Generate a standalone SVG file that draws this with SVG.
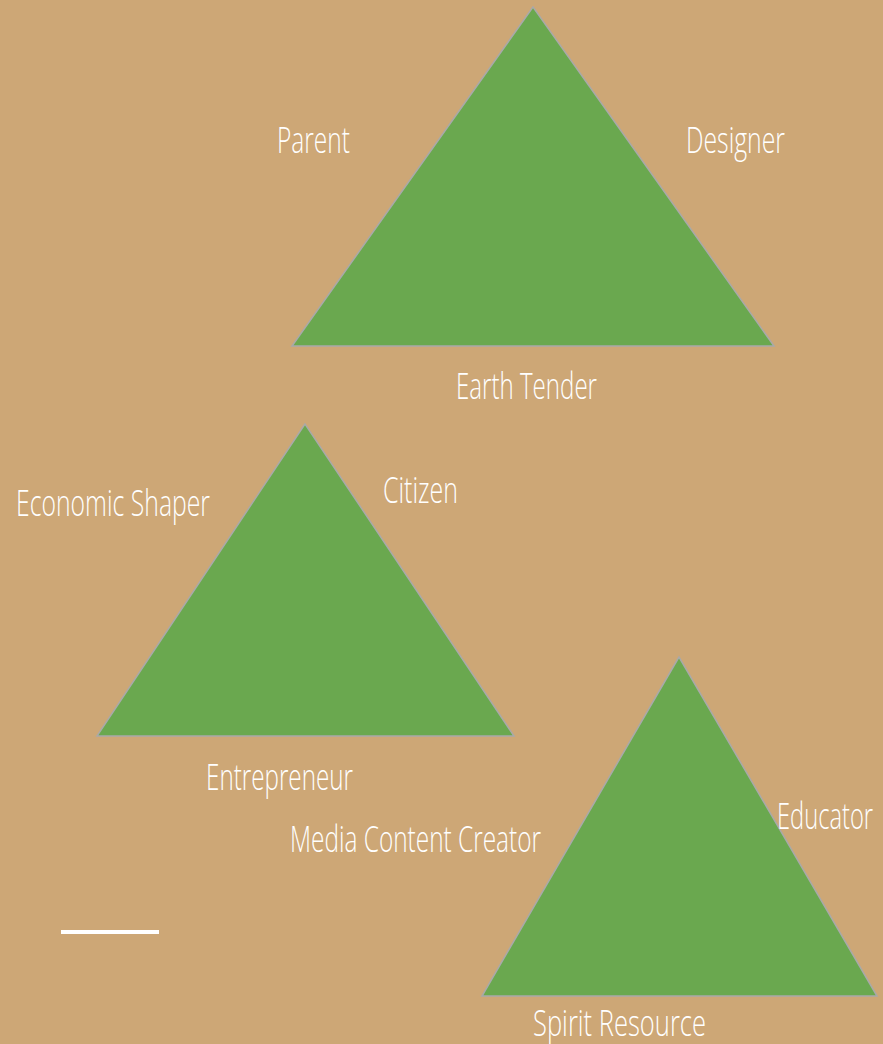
<svg xmlns="http://www.w3.org/2000/svg" width="883" height="1044" viewBox="0 0 883 1044">
<style>
.tri{fill:#6aa84f;stroke:#a9a9a9;stroke-width:1.5;stroke-linejoin:miter}
.lbl{font-family:"Open Sans","Liberation Sans",sans-serif;font-weight:300;font-size:36px;fill:#ffffff}
</style>
<rect x="0" y="0" width="883" height="1044" fill="#cda776"/>
<g id="triangle-top">
<polygon class="tri" points="533,7 292,346 774,346"/>
<text class="lbl" x="277" y="153" textLength="73" lengthAdjust="spacingAndGlyphs">Parent</text>
<text class="lbl" x="686" y="153" textLength="99" lengthAdjust="spacingAndGlyphs">Designer</text>
<text class="lbl" x="456" y="399" textLength="141" lengthAdjust="spacingAndGlyphs">Earth Tender</text>
</g>
<g id="triangle-left">
<polygon class="tri" points="305,424 97,736 514,736"/>
<text class="lbl" x="16" y="516" textLength="194" lengthAdjust="spacingAndGlyphs">Economic Shaper</text>
<text class="lbl" x="383" y="503" textLength="75" lengthAdjust="spacingAndGlyphs">Citizen</text>
<text class="lbl" x="206" y="790" textLength="147" lengthAdjust="spacingAndGlyphs">Entrepreneur</text>
</g>
<g id="triangle-right">
<polygon class="tri" points="679,657 482,996 877,996"/>
<text class="lbl" x="290" y="852" textLength="251" lengthAdjust="spacingAndGlyphs">Media Content Creator</text>
<text class="lbl" x="777" y="829" textLength="96" lengthAdjust="spacingAndGlyphs">Educator</text>
<text class="lbl" x="533" y="1036" textLength="173" lengthAdjust="spacingAndGlyphs">Spirit Resource</text>
</g>
<g id="connectors">
<rect x="61" y="930" width="98" height="4" fill="#ffffff"/>
</g>
</svg>
